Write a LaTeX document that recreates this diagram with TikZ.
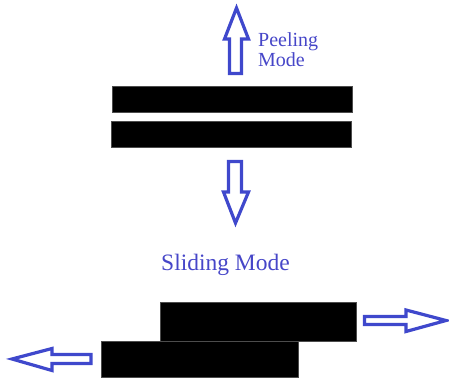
\documentclass[tikz,border=0pt]{standalone}
\usepackage{fontspec}
\setmainfont{Liberation Serif}
\definecolor{arrowblue}{RGB}{63,72,204}
\definecolor{textblue}{RGB}{70,70,200}
\tikzset{
  blockbar/.style={fill=black, draw=black!70, line width=0.6pt},
  hollowarrow/.style={draw=arrowblue, line width=3.2pt, line join=miter, fill=white},
  modelabel/.style={text=textblue, anchor=base west, inner sep=0pt}
}
\begin{document}
\begin{tikzpicture}[x=1pt,y=-1pt]
\useasboundingbox (0,0) rectangle (449,379);
% peeling bars
\path[blockbar] (112,86) rectangle (352,112);
\path[blockbar] (111,121) rectangle (351,147);
% up arrow
\path[hollowarrow] (229.5,73.5) -- (229.5,39) -- (224.5,39) -- (236.5,8) -- (248.5,39) -- (241.5,39) -- (241.5,73.5) -- cycle;
\node[modelabel, font=\fontsize{20}{22}\selectfont] (peel) at (258,47) {Peeling};
\node[modelabel, font=\fontsize{20}{22}\selectfont] (peelmode) at (258,66.5) {Mode};
% down arrow
\path[hollowarrow] (228.5,161.5) -- (241.5,161.5) -- (241.5,192) -- (248.5,192) -- (235.5,223) -- (223.5,192) -- (228.5,192) -- cycle;
% sliding
\node[modelabel, font=\fontsize{23.5}{26}\selectfont] (slide) at (161,270) {Sliding Mode};
\path[blockbar] (160,302) rectangle (356,341);
\path[blockbar] (101,341) rectangle (298,377);
% right arrow
\path[hollowarrow] (364.5,316.5) -- (406,316.5) -- (406,310) -- (446,320.5) -- (406,331.5) -- (406,324.5) -- (364.5,324.5) -- cycle;
% left arrow
\path[hollowarrow] (91,354.5) -- (52,354.5) -- (52,348.5) -- (12,359) -- (52,370.5) -- (52,363.5) -- (91,363.5) -- cycle;
\end{tikzpicture}
\end{document}
